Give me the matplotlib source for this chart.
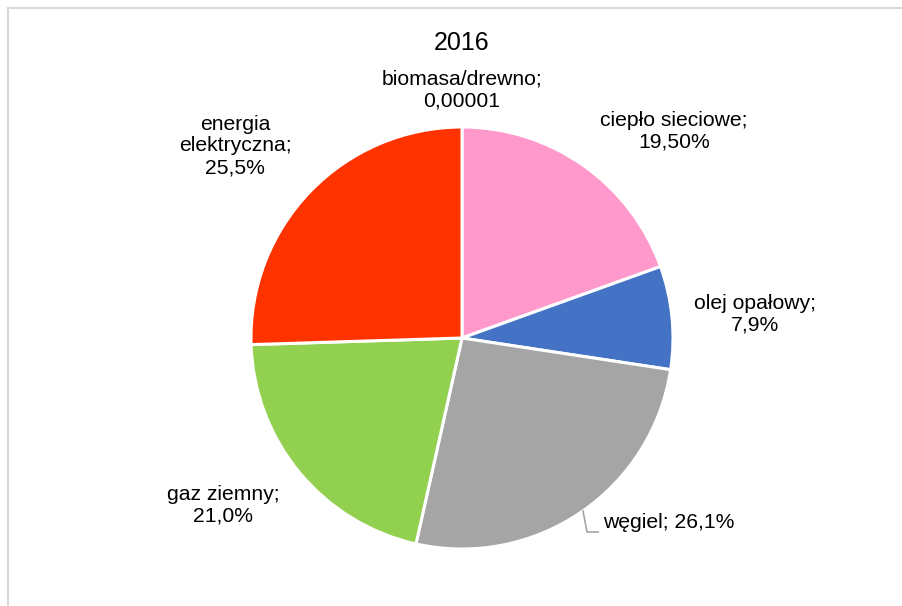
import matplotlib.pyplot as plt

plt.rcParams['font.family'] = ['Liberation Sans', 'DejaVu Sans']

# data
categories = ['biomasa/drewno', 'ciepło sieciowe', 'olej opałowy', 'węgiel', 'gaz ziemny', 'energia elektryczna']
shares = [0.00001, 19.5, 7.9, 26.1, 21.0, 25.5]
value_labels = ['0,00001', '19,50%', '7,9%', '26,1%', '21,0%', '25,5%']
colors = ['#7F7F7F', '#FF99CC', '#4472C4', '#A5A5A5', '#92D050', '#FF3300']
title = '2016'

# label text layout (pixel coords, top-left origin)
label_texts = ['biomasa/drewno;\n0,00001', 'ciepło sieciowe;\n19,50%', 'olej opałowy;\n7,9%',
               'węgiel; 26,1%', 'gaz ziemny;\n21,0%', 'energia\nelektryczna;\n25,5%']
label_pos = [(462, 90), (674, 131), (755, 314), (669, 523), (223, 505), (235, 146)]

W, H = 903, 606
fig = plt.figure(figsize=(W / 100, H / 100), dpi=100)
ax = fig.add_axes([0, 0, 1, 1])

cx, cy, r = 462, H - 338, 211
ax.pie(shares, colors=colors, startangle=90, counterclock=False,
       center=(cx, cy), radius=r, frame=True,
       wedgeprops=dict(edgecolor='white', linewidth=2.2))
ax.set_xlim(0, W)
ax.set_ylim(0, H)
ax.set_aspect('equal')
ax.axis('off')

for txt, (x, y) in zip(label_texts, label_pos):
    ax.text(x, H - y, txt, ha='center', va='center', fontsize=15.2,
            linespacing=1.17, color='#000000')

# leader line for the coal label
ax.plot([583, 587, 598], [H - 511, H - 532, H - 532], color='#A6A6A6', lw=1.2)

ax.text(462, H - 43, title, ha='center', va='center', fontsize=18, color='#000000')

# chart frame
ax.plot([8, W], [H - 8, H - 8], color='#D9D9D9', lw=1.5, clip_on=False)
ax.plot([8, 8], [H - 8, 0], color='#D9D9D9', lw=1.5, clip_on=False)

fig.savefig('out.png', dpi=100)
